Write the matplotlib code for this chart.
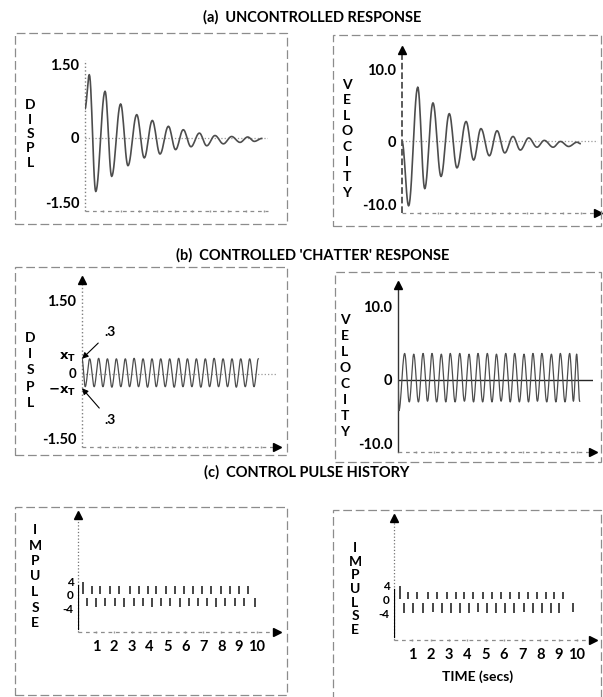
import numpy as np
import matplotlib
matplotlib.use("Agg")
import matplotlib.pyplot as plt
from matplotlib.patches import Rectangle

plt.rcParams['font.family'] = ['Lato', 'DejaVu Sans']
plt.rcParams['font.weight'] = 'bold'

W, H = 603, 697

# (a) uncontrolled response - extrema
disp_a_t = [0.0, 0.24, 0.60, 1.12, 1.49, 1.99, 2.40, 2.89, 3.31, 3.76, 4.19, 4.66,
            5.06, 5.49, 5.92, 6.39, 6.80, 7.26, 7.73, 8.19, 8.66, 9.09, 9.46, 9.87]
disp_a = [0.60, 1.30, -1.10, 0.96, -0.79, 0.70, -0.57, 0.48, -0.41, 0.36, -0.33, 0.24,
          -0.24, 0.17, -0.18, 0.10, -0.16, 0.05, -0.12, 0.03, -0.09, 0.02, -0.07, -0.01]
vel_a_t = [0.0, 0.37, 0.88, 1.27, 1.73, 2.18, 2.64, 3.07, 3.58, 4.00, 4.41, 4.88,
           5.31, 5.74, 6.20, 6.61, 7.08, 7.54, 7.95, 8.44, 8.85, 9.31, 9.78, 9.95]
vel_a = [0.0, -9.0, 7.6, -6.6, 5.4, -4.9, 3.9, -3.7, 2.8, -2.6, 1.8, -2.0,
         1.5, -1.6, 0.7, -1.2, 0.5, -0.8, 0.15, -0.8, 0.0, -0.7, -0.1, -0.3]

# (b) controlled 'chatter' response
disp_b_t = [0.0, 0.18, 0.43, 0.68, 0.93, 1.17, 1.42, 1.67, 1.92, 2.17, 2.42, 2.66, 2.91,
            3.16, 3.41, 3.66, 3.91, 4.15, 4.40, 4.65, 4.90, 5.15, 5.40, 5.64, 5.89,
            6.14, 6.39, 6.64, 6.89, 7.13, 7.38, 7.63, 7.88, 8.13, 8.38, 8.62, 8.87,
            9.12, 9.37, 9.61, 9.85]
disp_b = [0.30, -0.27, 0.30, -0.27, 0.31, -0.27, 0.30, -0.28, 0.30, -0.27, 0.30, -0.27,
          0.31, -0.27, 0.30, -0.28, 0.30, -0.27, 0.30, -0.27, 0.30, -0.28, 0.31, -0.27,
          0.30, -0.27, 0.30, -0.28, 0.30, -0.27, 0.31, -0.27, 0.30, -0.27, 0.30, -0.28,
          0.30, -0.27, 0.30, -0.27, 0.30]
vel_b_t = [0.0, 0.05, 0.37, 0.63, 0.88, 1.14, 1.40, 1.65, 1.90, 2.16, 2.42, 2.67, 2.92,
           3.19, 3.45, 3.71, 3.97, 4.22, 4.47, 4.73, 4.99, 5.25, 5.50, 5.76, 6.02,
           6.27, 6.52, 6.78, 7.04, 7.29, 7.54, 7.79, 8.04, 8.31, 8.57, 8.82, 9.07,
           9.33, 9.59, 9.80, 9.98, 10.15]
vel_b = [0.0, -4.3, 3.6, -3.1, 3.5, -3.1, 3.6, -3.0, 3.6, -3.1, 3.5, -3.1,
         3.6, -3.1, 3.6, -3.0, 3.5, -3.1, 3.6, -3.1, 3.6, -3.1, 3.5, -3.0,
         3.6, -3.1, 3.6, -3.1, 3.5, -3.1, 3.6, -3.0, 3.6, -3.1, 3.5, -3.1,
         3.6, -3.1, 3.6, -3.0, 3.5, -3.0]

# (c) control pulse history
imp_l_up_t = [0.28, 0.78, 1.25, 1.81, 2.29, 2.89, 3.39, 3.91, 4.38, 4.90, 5.40, 5.91,
              6.43, 6.95, 7.45, 7.97, 8.47, 9.00, 9.50]
imp_l_up = [5.5, 4.0, 3.8, 4.0, 3.9, 4.0, 3.8, 4.0, 3.9, 3.8, 4.0, 3.8, 3.9, 4.0,
            3.8, 3.9, 4.0, 3.8, 3.9]
imp_l_dn_t = [0.52, 1.03, 1.53, 2.05, 2.57, 3.11, 3.63, 4.15, 4.66, 5.16, 5.68, 6.18,
              6.71, 7.21, 7.73, 8.23, 8.75, 9.26, 9.87]
imp_l_dn = [-4.0, -4.1, -4.0, -3.9, -4.1, -4.0, -4.0, -4.1, -3.9, -4.0, -4.1, -4.0,
            -3.9, -4.0, -4.1, -4.0, -3.9, -4.0, -4.1]
imp_r_up_t = [0.33, 0.78, 1.28, 1.88, 2.37, 2.88, 3.39, 3.84, 4.34, 4.85, 5.34, 5.83,
              6.34, 6.85, 7.34, 7.80, 8.29, 8.76, 9.25]
imp_r_up = [5.5, 3.4, 3.2, 3.4, 3.3, 3.2, 3.4, 3.3, 3.2, 3.4, 3.3, 3.2, 3.4, 3.3,
            3.2, 3.4, 3.3, 3.2, 3.3]
imp_r_dn_t = [0.55, 1.02, 1.57, 2.11, 2.60, 3.11, 3.61, 4.12, 4.61, 5.06, 5.57, 6.07,
              6.58, 7.10, 7.58, 8.07, 8.56, 9.02, 9.80]
imp_r_dn = [-4.4, -4.3, -4.4, -4.2, -4.4, -4.3, -4.4, -4.3, -4.2, -4.4, -4.3, -4.4,
            -4.3, -4.2, -4.4, -4.3, -4.4, -4.3, -4.2]
imp_labels = ['-4', '0', '4']
time_ticks = [1, 2, 3, 4, 5, 6, 7, 8, 9, 10]

fig = plt.figure(figsize=(W / 100, H / 100), dpi=100)


def lobes(ts, vs, n=14):
    # smooth half-cycle between successive extrema
    xs, ys = [ts[0]], [vs[0]]
    for t0, t1, v0, v1 in zip(ts[:-1], ts[1:], vs[:-1], vs[1:]):
        s = np.linspace(0, 1, n)[1:]
        xs.extend(t0 + (t1 - t0) * s)
        ys.extend(v0 + (v1 - v0) * (1 - np.cos(np.pi * s)) / 2)
    return np.array(xs), np.array(ys)


def panel(x0, right, top, bottom, zero_y, sx, sy):
    ax = fig.add_axes([x0 / W, 1 - bottom / H, (right - x0) / W, (bottom - top) / H])
    ax.set_xlim(0, (right - x0) / sx)
    ax.set_ylim((zero_y - bottom) / sy, (zero_y - top) / sy)
    for s in ax.spines.values():
        s.set_visible(False)
    ax.patch.set_alpha(0)
    ax.set_xticks(time_ticks)
    ax.set_xticklabels([])
    ax.tick_params(axis='x', length=2, width=1, color='0.6', direction='inout')
    ax.tick_params(axis='y', length=0, pad=4, labelsize=10.5)
    return ax


def axis_lines(ax, ycol='0.5', yls=':', ylw=1.0, arrows=True):
    ax.axvline(0, color=ycol, ls=yls, lw=ylw, clip_on=False)
    ax.axhline(ax.get_ylim()[0], color='0.55', ls=(0, (3, 3)), lw=0.9, clip_on=False)
    if arrows:
        ax.plot([0], [1], marker='^', ms=6, color='k', transform=ax.transAxes, clip_on=False)
        ax.plot([1], [0], marker='>', ms=6, color='k', transform=ax.transAxes, clip_on=False)


def yticks(ax, vals, labels):
    ax.set_yticks(vals)
    ax.set_yticklabels(labels, fontweight='bold')
    ax.get_yticklabels()[0].set_va('bottom')


def vword(word, x, y0, step, size=10):
    for i, ch in enumerate(word):
        fig.text(x / W, 1 - (y0 + i * step) / H, ch, ha='center', va='center',
                 fontsize=size, fontweight='bold')


# frames
for (x0, y0, x1, y1) in [(15, 33, 287, 224), (15, 267, 287, 455), (15, 507, 287, 695),
                         (333, 35, 601, 226), (335, 272, 601, 462), (333, 510, 601, 700)]:
    fig.patches.append(Rectangle((x0 / W, 1 - y1 / H), (x1 - x0) / W, (y1 - y0) / H,
                                 transform=fig.transFigure, fill=False, ec='0.55',
                                 lw=0.9, ls=(0, (7, 3))))

# titles
fig.text(312 / W, 1 - 17 / H, '(a)  UNCONTROLLED RESPONSE', ha='center', va='center',
         fontsize=10.5, fontweight='bold')
fig.text(313 / W, 1 - 255 / H, "(b)  CONTROLLED 'CHATTER' RESPONSE", ha='center',
         va='center', fontsize=10.5, fontweight='bold')
fig.text(307 / W, 1 - 472 / H, '(c)  CONTROL PULSE HISTORY', ha='center', va='center',
         fontsize=10.5, fontweight='bold')

# (a) left
ax = panel(85, 268, 60, 211, 138, 17.9, 48.7)
axis_lines(ax, arrows=False)
ax.axhline(0, color='0.6', ls=':', lw=0.9)
x, y = lobes(disp_a_t, disp_a)
ax.plot(x, y, color='0.3', lw=1.2)
yticks(ax, [-1.5, 0, 1.5], ['-1.50', '0', '1.50'])
vword('DISPL', 30, 105, 14.5)

# (a) right
ax = panel(402, 598, 50, 213, 141.7, 17.9, 7.17)
axis_lines(ax, ycol='0.3', yls='--', ylw=1.3)
ax.axhline(0, color='0.6', ls=':', lw=0.9)
x, y = lobes(vel_a_t, vel_a)
ax.plot(x, y, color='0.3', lw=1.2)
yticks(ax, [-10, 0, 10], ['-10.0', '0', '10.0'])
vword('VELOCITY', 347, 85, 15.4)

# (b) left
ax = panel(82, 277, 280, 447, 373.5, 17.9, 49)
axis_lines(ax)
ax.axhline(0, color='0.6', ls=':', lw=0.9)
x, y = lobes(disp_b_t, disp_b)
ax.plot(x, y, color='0.3', lw=0.9)
ax.set_yticks([-1.5, -0.33, 0, 0.36, 1.5])
ax.set_yticklabels(['-1.50', r'$\mathbf{-x_T}$', '0', r'$\mathbf{x_T}$', '1.50'],
                   fontweight='bold')
ax.get_yticklabels()[0].set_va('bottom')
for lbl in ax.get_yticklabels()[1:4]:
    lbl.set_fontsize(9.5)
for yv, ty in [(0.3, 332), (-0.3, 420)]:
    ax.annotate('.3', xy=(0, yv), xytext=(104, H - ty), textcoords='figure pixels',
                fontsize=10, fontweight='bold', ha='left', va='center',
                arrowprops=dict(arrowstyle='-|>', color='k', lw=0.8, shrinkA=3,
                                shrinkB=0, mutation_scale=9))
vword('DISPL', 30, 338, 16.2)

# (b) right
ax = panel(398, 593, 285, 452, 379.5, 17.9, 7.25)
axis_lines(ax, ycol='0.2', yls='-', ylw=1.0)
ax.axhline(0, color='0.15', lw=1.0)
x, y = lobes(vel_b_t, vel_b)
ax.plot(x, y, color='0.3', lw=0.9)
yticks(ax, [-10, 0, 10], ['-10.0', '0', '10.0'])
vword('VELOCITY', 345, 320, 16)

# (c) left and right
for (x0, right, top, bottom, zy, sx, sy, ut, uv, dt, dv, lx, ly0, lstep) in [
        (78, 277, 515, 632, 596, 17.9, 2.6, imp_l_up_t, imp_l_up, imp_l_dn_t, imp_l_dn,
         35, 530, 15.5),
        (394, 593, 518, 640, 601, 18.3, 2.7, imp_r_up_t, imp_r_up, imp_r_dn_t, imp_r_dn,
         355, 548, 13.7)]:
    ax = panel(x0, right, top, bottom, zy, sx, sy)
    axis_lines(ax, ycol='0.45', yls=':', ylw=0.9)
    ax.plot([0, 0], [ax.get_ylim()[0] + 1, 4], color='k', lw=1.6)
    ax.vlines(ut, 0.6, uv, color='0.15', lw=1.2)
    ax.vlines(dt, -0.6, dv, color='0.15', lw=1.2)
    # labels spread a little so they stay legible
    ax.set_yticks([-4.8, 0.4, 5.6])
    ax.set_yticklabels(imp_labels, fontweight='bold')
    ax.tick_params(axis='y', pad=3, labelsize=8.5)
    ax.set_xticklabels([str(v) for v in time_ticks], fontsize=10.5, fontweight='bold')
    ax.tick_params(axis='x', pad=5)
    vword('IMPULSE', lx, ly0, lstep)

fig.text(478 / W, 1 - 677 / H, 'TIME (secs)', ha='center', va='center', fontsize=10,
         fontweight='bold')

fig.savefig('out.png', dpi=100)
